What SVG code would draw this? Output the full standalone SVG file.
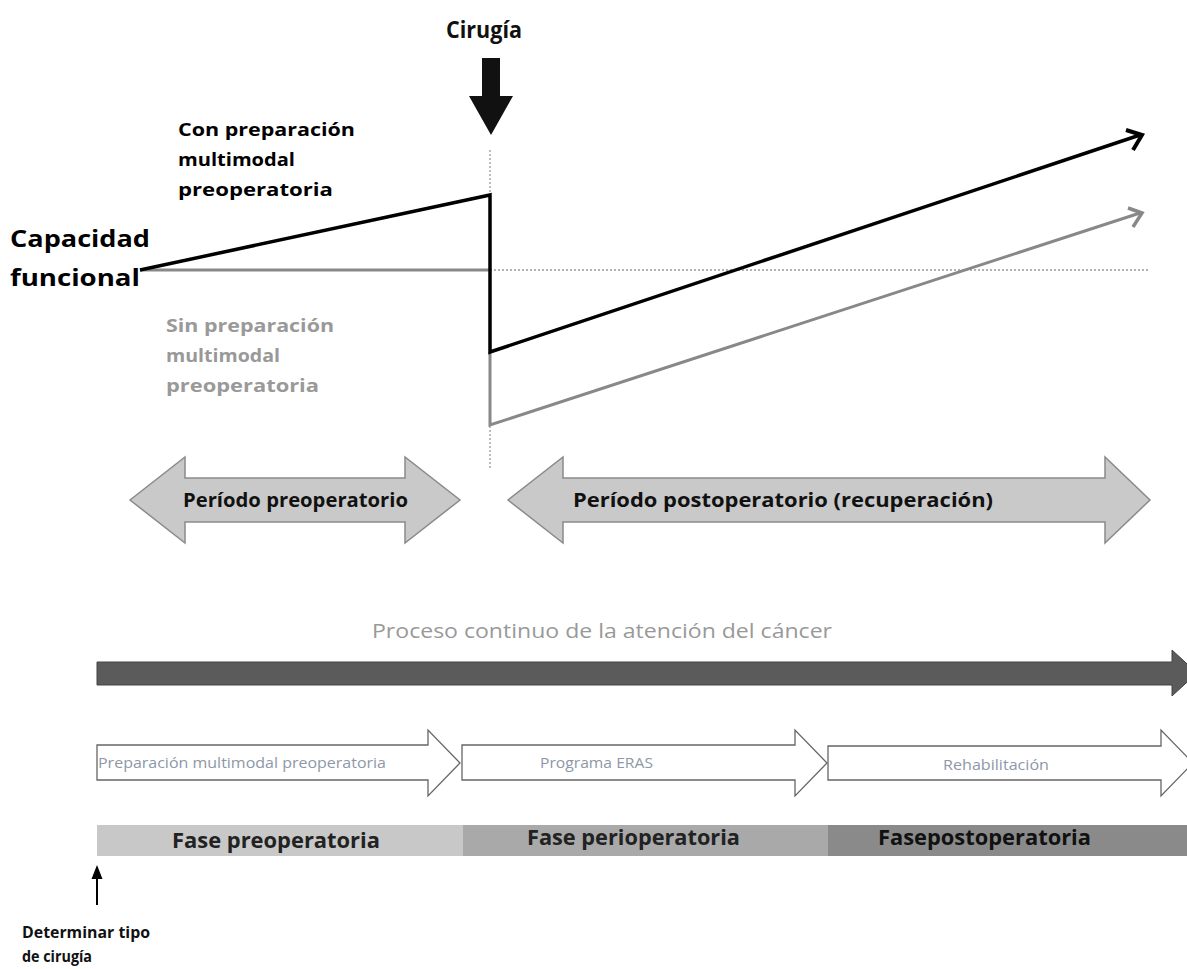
<svg xmlns="http://www.w3.org/2000/svg" width="1187" height="969" viewBox="0 0 1187 969">
<style>
.b{font-family:"Open Sans","Liberation Sans",sans-serif;font-weight:bold}
.n{font-family:"Open Sans","Liberation Sans",sans-serif}
</style>
<rect width="1187" height="969" fill="#fff"/>
<g id="surgery">
<text class="b" x="484" y="38" font-size="23" text-anchor="middle" fill="#111" textLength="76" lengthAdjust="spacingAndGlyphs">Cirugía</text>
<path d="M482,58 H500 V96 H513 L491,135 L469,96 H482 Z" fill="#111"/>
</g>
<g id="connectors">
<line x1="490" y1="150" x2="490" y2="468" stroke="#999" stroke-width="1.3" stroke-dasharray="2,2"/>
<line x1="140" y1="270" x2="490" y2="270" stroke="#888" stroke-width="3"/>
<line x1="490" y1="270" x2="1148" y2="270" stroke="#999" stroke-width="1.5" stroke-dasharray="2,2"/>
<path d="M490,352 V425 L1140,213" fill="none" stroke="#888" stroke-width="3"/>
<path d="M1128,208 L1142,213 L1133,227" fill="none" stroke="#888" stroke-width="3.5"/>
<path d="M140,270 L490,195 V352 L1140,135" fill="none" stroke="#000" stroke-width="3.5"/>
<path d="M1126,130 L1142,135 L1133,150" fill="none" stroke="#000" stroke-width="4"/>
</g>
<g id="labels">
<text class="b" font-size="23" fill="#000"><tspan x="10" y="247" textLength="140" lengthAdjust="spacingAndGlyphs">Capacidad</tspan><tspan x="10" y="286" textLength="130" lengthAdjust="spacingAndGlyphs">funcional</tspan></text>
<text class="b" font-size="18.5" fill="#000"><tspan x="178" y="136" textLength="177" lengthAdjust="spacingAndGlyphs">Con preparación</tspan><tspan x="178" y="166" textLength="117" lengthAdjust="spacingAndGlyphs">multimodal</tspan><tspan x="178" y="196" textLength="155" lengthAdjust="spacingAndGlyphs">preoperatoria</tspan></text>
<text class="b" font-size="18.5" fill="#999"><tspan x="166" y="332" textLength="168" lengthAdjust="spacingAndGlyphs">Sin preparación</tspan><tspan x="166" y="362" textLength="114" lengthAdjust="spacingAndGlyphs">multimodal</tspan><tspan x="166" y="392" textLength="153" lengthAdjust="spacingAndGlyphs">preoperatoria</tspan></text>
</g>
<g id="preop-period">
<path d="M130,500 L185,457 V478 H405 V457 L460,500 L405,543 V522 H185 V543 Z" fill="#c9c9c9" stroke="#8a8a8a" stroke-width="1.5"/>
<text class="b" x="183" y="507" font-size="20" fill="#111" textLength="225" lengthAdjust="spacingAndGlyphs">Período preoperatorio</text>
</g>
<g id="postop-period">
<path d="M508,500 L563,457 V478 H1105 V457 L1150,500 L1105,543 V522 H563 V543 Z" fill="#c9c9c9" stroke="#8a8a8a" stroke-width="1.5"/>
<text class="b" x="573" y="507" font-size="20" fill="#111" textLength="420" lengthAdjust="spacingAndGlyphs">Período postoperatorio (recuperación)</text>
</g>
<g id="continuum">
<text class="n" x="372" y="638" font-size="20" fill="#999" textLength="460" lengthAdjust="spacingAndGlyphs">Proceso continuo de la atención del cáncer</text>
<path d="M97,662 H1172 V650 L1197,673 L1172,696 V685 H97 Z" fill="#5b5b5b" stroke="#444" stroke-width="1"/>
</g>
<g id="prep">
<path d="M97,745 H428 V730 L460,763 L428,796 V780 H97 Z" fill="#fff" stroke="#666" stroke-width="1.3"/>
<text class="n" x="98" y="768" font-size="15" fill="#8d97a8" textLength="288" lengthAdjust="spacingAndGlyphs">Preparación multimodal preoperatoria</text>
</g>
<g id="eras">
<path d="M462,745 H795 V730 L827,763 L795,796 V780 H462 Z" fill="#fff" stroke="#666" stroke-width="1.3"/>
<text class="n" x="540" y="768" font-size="15" fill="#8d97a8" textLength="113" lengthAdjust="spacingAndGlyphs">Programa ERAS</text>
</g>
<g id="rehab">
<path d="M828,746 H1161 V730 L1193,763 L1161,796 V780 H828 Z" fill="#fff" stroke="#666" stroke-width="1.3"/>
<text class="n" x="943" y="770" font-size="15" fill="#8d97a8" textLength="106" lengthAdjust="spacingAndGlyphs">Rehabilitación</text>
</g>
<g id="phase-pre">
<rect x="97" y="825" width="366" height="31" fill="#c8c8c8"/>
<text class="b" x="172" y="848" font-size="21" fill="#222" textLength="208" lengthAdjust="spacingAndGlyphs">Fase preoperatoria</text>
</g>
<g id="phase-peri">
<rect x="463" y="825" width="365" height="31" fill="#a9a9a9"/>
<text class="b" x="527" y="845" font-size="21" fill="#222" textLength="213" lengthAdjust="spacingAndGlyphs">Fase perioperatoria</text>
</g>
<g id="phase-post">
<rect x="828" y="825" width="359" height="31" fill="#8a8a8a"/>
<text class="b" x="878" y="845" font-size="21" fill="#111" textLength="213" lengthAdjust="spacingAndGlyphs">Fasepostoperatoria</text>
</g>
<g id="determine">
<line x1="97" y1="905" x2="97" y2="874" stroke="#000" stroke-width="2"/>
<path d="M91.5,879 L97,865 L102.5,879 Z" fill="#000"/>
<text class="b" font-size="16" fill="#111"><tspan x="22" y="938" textLength="128" lengthAdjust="spacingAndGlyphs">Determinar tipo</tspan><tspan x="22" y="962" textLength="70" lengthAdjust="spacingAndGlyphs">de cirugía</tspan></text>
</g>
</svg>
